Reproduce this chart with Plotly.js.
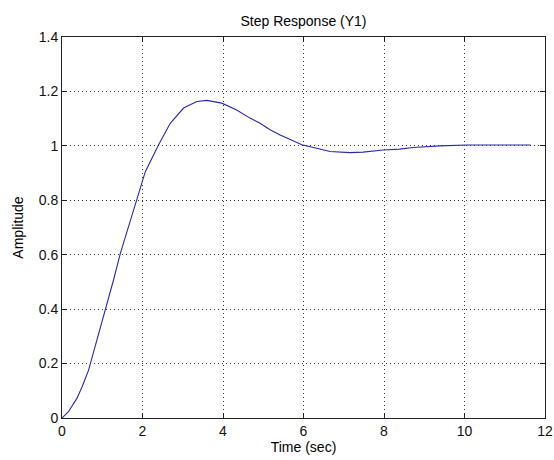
<!DOCTYPE html>
<html>
<head>
<meta charset="utf-8">
<script src="https://cdn.plot.ly/plotly-3.0.1.min.js"></script>
<style>html,body{margin:0;padding:0;background:#fff;}#chart{width:554px;height:460px;}</style>
</head>
<body>
<div id="chart"></div>
<script>
// Values
const timeSec = [0, 0.16, 0.37, 0.5, 0.66, 0.87, 1.07, 1.28, 1.45, 1.86, 2.07, 2.4, 2.69, 3.02, 3.35, 3.6, 3.97, 4.34, 4.67, 4.92, 5.17, 5.42, 5.96, 6.66, 7.15, 7.48, 7.98, 8.39, 8.72, 9.39, 10.05, 11.64];
const amplitude = [0, 0.023, 0.072, 0.115, 0.176, 0.287, 0.397, 0.507, 0.605, 0.80, 0.905, 1.004, 1.083, 1.139, 1.163, 1.167, 1.157, 1.132, 1.102, 1.083, 1.059, 1.040, 1.004, 0.979, 0.975, 0.977, 0.985, 0.988, 0.994, 1.000, 1.003, 1.003];
const xTicks = [0, 2, 4, 6, 8, 10, 12];
const yTicks = [0, 0.2, 0.4, 0.6, 0.8, 1, 1.2, 1.4];
const yTickLabels = ['0', '0.2', '0.4', '0.6', '0.8', '1', '1.2', '1.4'];

const font = {family: 'Liberation Sans, Arial, sans-serif', size: 14, color: '#000'};
const tickFont = {family: 'Liberation Sans, Arial, sans-serif', size: 14, color: '#111'};

const axisCommon = {
  showline: true, linecolor: '#222', linewidth: 1, mirror: 'ticks',
  ticks: 'inside', ticklen: 5, tickcolor: '#222',
  showgrid: true, gridcolor: '#333', griddash: '1px,3px', gridwidth: 1,
  zeroline: false, tickfont: tickFont
};

Plotly.newPlot('chart', [{
  x: timeSec, y: amplitude, type: 'scatter', mode: 'lines',
  line: {color: '#2a2aa8', width: 1.1}, hoverinfo: 'skip', showlegend: false
}], {
  width: 554, height: 460,
  margin: {l: 62, r: 9, t: 37, b: 42},
  paper_bgcolor: '#fff', plot_bgcolor: '#fff',
  font: font,
  title: {text: 'Step Response (Y1)', font: {family: font.family, size: 14, color: '#000'}, x: 0.5, xref: 'paper', xanchor: 'center', y: 0.955, yanchor: 'middle'},
  xaxis: Object.assign({}, axisCommon, {
    range: [0, 12], tickvals: xTicks, ticktext: xTicks.map(String),
    title: {text: 'Time (sec)', font: font, standoff: 1}
  }),
  yaxis: Object.assign({}, axisCommon, {
    range: [0, 1.4], tickvals: yTicks, ticktext: yTickLabels,
    title: {text: 'Amplitude', font: font, standoff: 11}
  })
}, {staticPlot: true, displayModeBar: false});
</script>
</body>
</html>
